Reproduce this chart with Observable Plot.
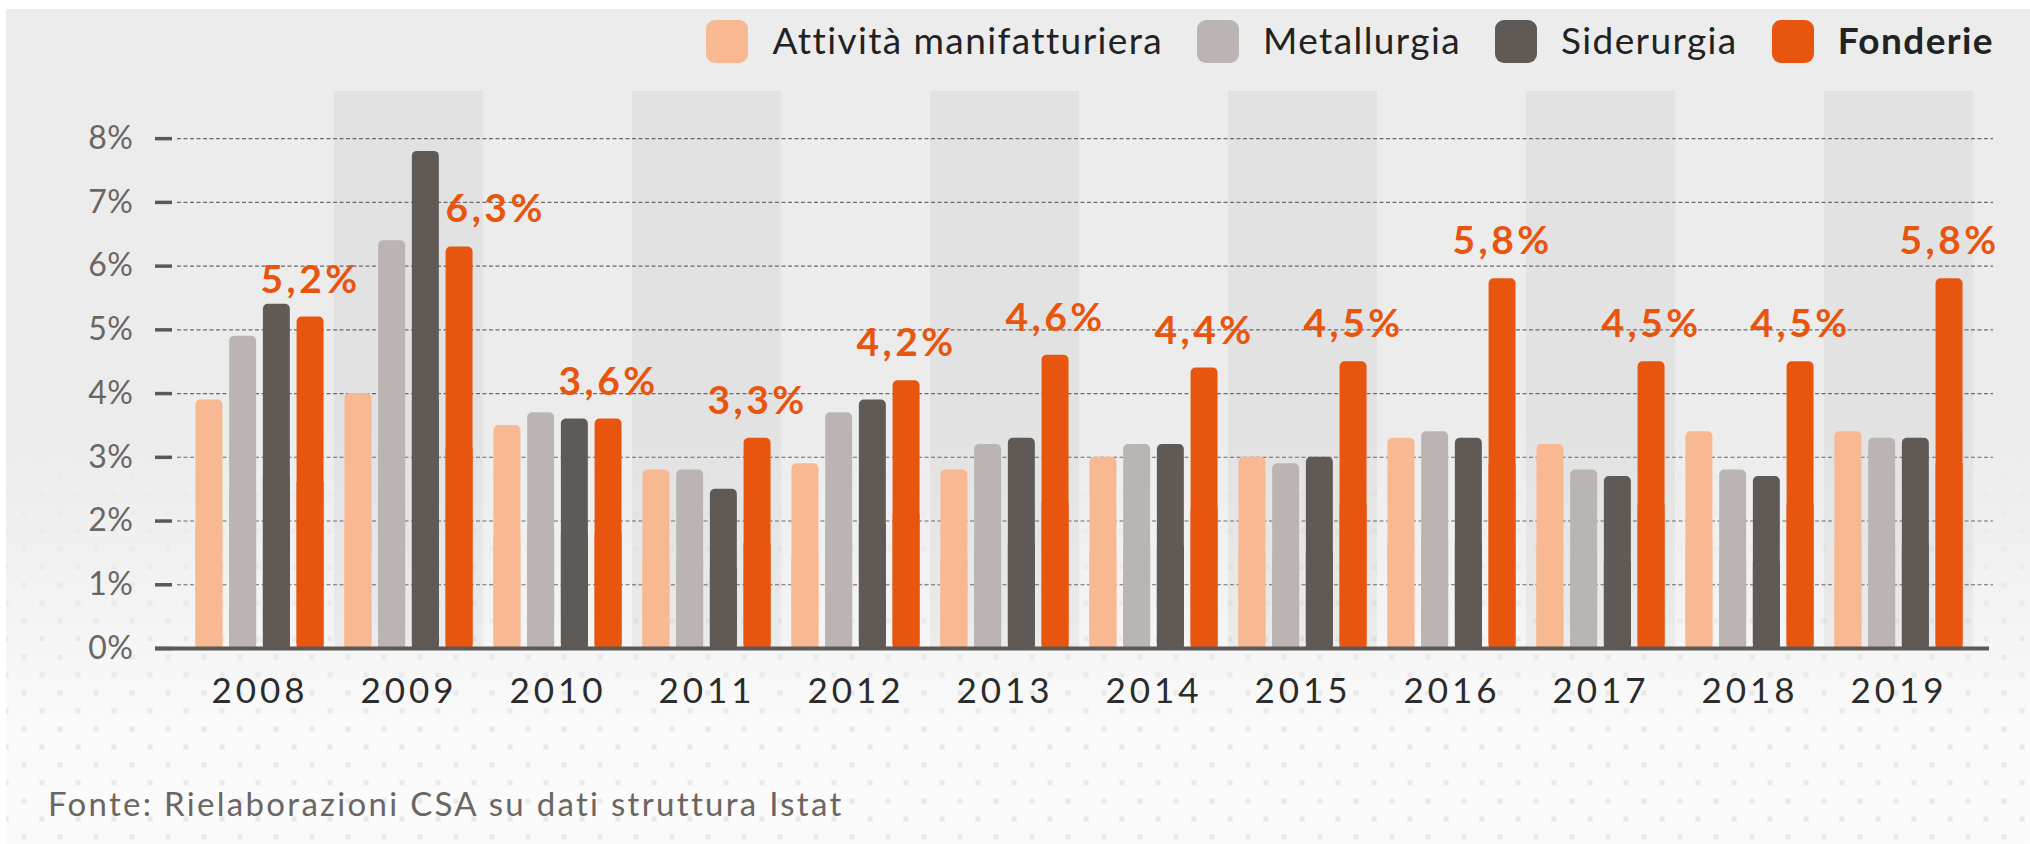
<!DOCTYPE html>
<html>
<head>
<meta charset="utf-8">
<script src="https://cdn.jsdelivr.net/npm/d3@7"></script>
<script src="https://cdn.jsdelivr.net/npm/@observablehq/plot@0.6"></script>
<style>
  html, body { margin: 0; padding: 0; background: #ffffff; }
  body { width: 2030px; height: 844px; position: relative; overflow: hidden; font-family: Lato, "Open Sans", sans-serif; }
  #panel {
    position: absolute; left: 6px; top: 9px; right: 0; bottom: 0;
    background:
      linear-gradient(to bottom, #ececec 0px, #ececec 420px, rgba(236,236,236,0.5) 600px, rgba(240,240,240,0.0) 730px),
      radial-gradient(circle, rgba(251,251,251,1) 0 15px, rgba(251,251,251,0) 16px) 0 0 / 36px 36px,
      radial-gradient(circle, rgba(251,251,251,1) 0 15px, rgba(251,251,251,0) 16px) 18px 18px / 36px 36px,
      #e9e9e9;
  }
  .layer { position: absolute; left: 0; top: 0; }
  #legend {
    position: absolute; top: 20px; right: 36px; height: 43px;
    display: flex; align-items: center;
  }
  .item { display: flex; align-items: center; margin-left: 34px; }
  .sw { width: 42px; height: 43px; border-radius: 9px; display: inline-block; }
  .lt { margin-left: 24px; font-family: Lato, sans-serif; font-size: 37px; letter-spacing: 1.4px; color: #222; position: relative; top: -2px; }
  #caption {
    position: absolute; left: 48px; top: 784px;
    font-family: Lato, sans-serif; font-size: 33px; letter-spacing: 2.3px; line-height: 1.2; color: #6b6662;
  }
  #layerC g[aria-label*="y-axis"] line, #layerC g[aria-label*="y-axis"] path { stroke-width: 3.5px; stroke: #5d5855; }
  #layerC g[aria-label*="y-axis"] text { letter-spacing: 0.5px; }
  #layerB g[aria-label*="fx-axis"] text { letter-spacing: 4px; }
  #layerB g[aria-label="text"] text { letter-spacing: 3.5px; }
</style>
</head>
<body>
<div id="panel"></div>
<div id="chart"></div>
<div id="legend"></div>
<div id="caption">Fonte: Rielaborazioni CSA su dati struttura Istat</div>
<script>
// ---- data ----
const years = [2008, 2009, 2010, 2011, 2012, 2013, 2014, 2015, 2016, 2017, 2018, 2019];
const series = ["Attività manifatturiera", "Metallurgia", "Siderurgia", "Fonderie"];
const attivita    = [3.9, 4.0, 3.5, 2.8, 2.9, 2.8, 3.0, 3.0, 3.3, 3.2, 3.4, 3.4];
const metallurgia = [4.9, 6.4, 3.7, 2.8, 3.7, 3.2, 3.2, 2.9, 3.4, 2.8, 2.8, 3.3];
const siderurgia  = [5.4, 7.8, 3.6, 2.5, 3.9, 3.3, 3.2, 3.0, 3.3, 2.7, 2.7, 3.3];
const fonderie    = [5.2, 6.3, 3.6, 3.3, 4.2, 4.6, 4.4, 4.5, 5.8, 4.5, 4.5, 5.8];
const colors = ["#f7b892", "#bab5b2", "#5f5a56", "#e8550f"];
const yTicks = [0, 1, 2, 3, 4, 5, 6, 7, 8];
const highlighted = "Fonderie";

const valuesBySeries = [attivita, metallurgia, siderurgia, fonderie];
const rows = [];
years.forEach((year, i) => {
  series.forEach((s, j) => rows.push({year, series: s, value: valuesBySeries[j][i], neighbour: siderurgia[i]}));
});
const bandYears = years.filter((d, i) => i % 2 === 1);
const fmt = v => v.toFixed(1).replace(".", ",") + "%";
// a label is pushed to the right when the bar beside it would cover it
const crowded = d => d.neighbour > d.value + 1;

const W = 2030, H = 720;
const yDomain = [0, 8.74];

// Layer A: alternating column bands + dashed gridlines
const layerA = Plot.plot({
  width: W, height: H,
  marginLeft: 172, marginRight: 37, marginTop: 91, marginBottom: 72,
  style: "background:transparent;",
  x: {domain: years, padding: 0, insetLeft: 8, insetRight: 15, axis: null},
  y: {domain: yDomain, axis: null},
  marks: [
    Plot.cell(bandYears, {x: d => d, fill: "#000000", fillOpacity: 0.04, inset: 0}),
    Plot.ruleY(yTicks.filter(d => d > 0), {y: d => d, stroke: "#6e6a66", strokeWidth: 1.1, strokeDasharray: "4,2.5", insetLeft: 5})
  ]
});
layerA.classList.add("layer");

const labelStyle = {fill: colors[3], fontWeight: 700, fontSize: 39, lineAnchor: "middle", dy: -37};

// Layer B: grouped bars, value labels, year labels
const layerB = Plot.plot({
  width: W, height: H,
  marginLeft: 180, marginRight: 52, marginTop: 91, marginBottom: 72,
  style: "background:transparent;font-family:Lato,sans-serif;font-size:35px;color:#2b2b2b;",
  facet: {data: rows, x: "year"},
  fx: {domain: years, padding: 0, tickSize: 0, tickPadding: 30, label: null, axis: "bottom", tickFormat: d => `${d}`},
  x: {domain: series, paddingInner: 0.2, paddingOuter: 0.31, round: false, axis: null},
  y: {domain: yDomain, axis: null},
  color: {domain: series, range: colors},
  marks: [
    Plot.barY(rows, {x: "series", y: "value", fill: "series", rx: 5}),
    Plot.barY(rows, {x: "series", y: d => d.value / 2, fill: "series"}),
    Plot.text(rows, {
      filter: d => d.series === highlighted && !crowded(d),
      x: "series", y: "value", text: d => fmt(d.value), ...labelStyle
    }),
    Plot.text(rows, {
      filter: d => d.series === highlighted && crowded(d),
      x: "series", y: "value", text: d => fmt(d.value), textAnchor: "start", dx: -14, ...labelStyle
    })
  ]
});
layerB.classList.add("layer");
layerB.id = "layerB";

// Layer C: y axis ticks/labels + baseline
const layerC = Plot.plot({
  width: W, height: H,
  marginLeft: 172, marginRight: 37, marginTop: 91, marginBottom: 72,
  style: "background:transparent;font-family:Lato,sans-serif;font-size:32px;color:#6b6662;",
  y: {domain: yDomain, ticks: yTicks, tickFormat: d => d + "%", tickSize: 17, tickPadding: 22, label: null},
  marks: [
    Plot.ruleY([0], {stroke: "#5d5855", strokeWidth: 4, insetLeft: -17, insetRight: 4})
  ]
});
layerC.classList.add("layer");
layerC.id = "layerC";

const chart = document.getElementById("chart");
chart.append(layerA, layerB, layerC);

// Legend
const legend = document.getElementById("legend");
series.forEach((s, i) => {
  const item = document.createElement("div");
  item.className = "item";
  const sw = document.createElement("span");
  sw.className = "sw";
  sw.style.background = colors[i];
  const lt = document.createElement("span");
  lt.className = "lt";
  lt.textContent = s;
  if (s === highlighted) lt.style.fontWeight = "700";
  item.append(sw, lt);
  legend.append(item);
});
</script>
</body>
</html>
